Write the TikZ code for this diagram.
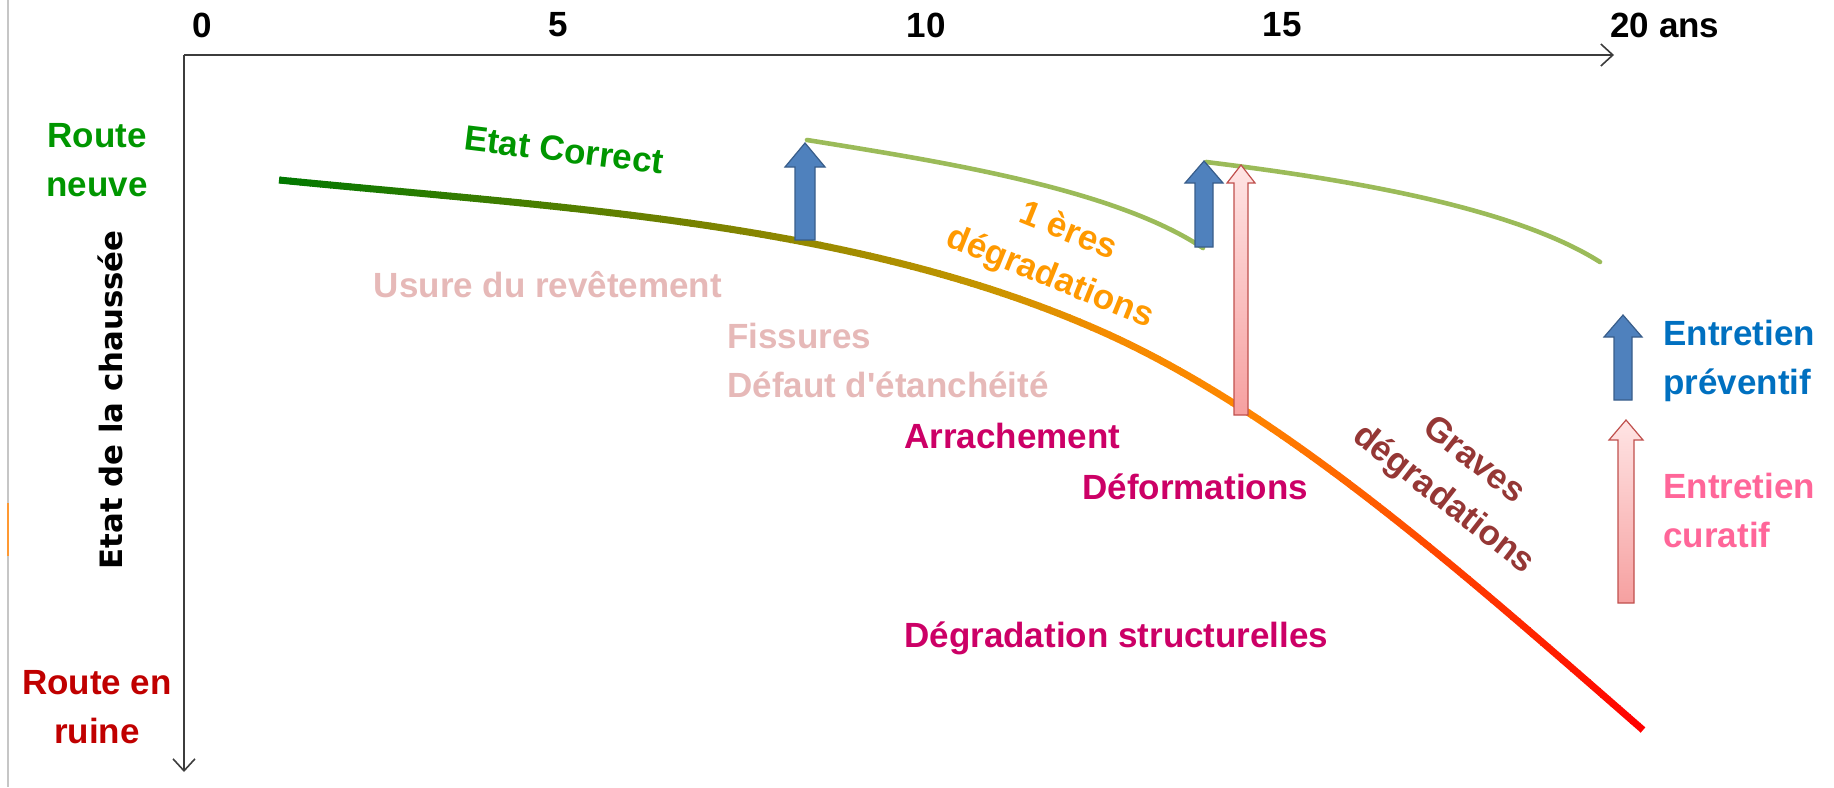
\documentclass[tikz,border=0pt]{standalone}
\usepackage{fontspec}
\usepackage{graphicx}
\setmainfont{Liberation Sans}[Ligatures=TeXOff]
\newfontfamily\heavyfont{DejaVu Sans}
\usetikzlibrary{arrows.meta}
\definecolor{axisgray}{RGB}{60,60,60}
\definecolor{newgreen}{RGB}{0,150,0}
\definecolor{ruinred}{RGB}{192,0,0}
\definecolor{lightrose}{RGB}{230,185,184}
\definecolor{crimson}{RGB}{204,0,102}
\definecolor{orangetxt}{RGB}{255,153,0}
\definecolor{brownred}{RGB}{149,55,53}
\definecolor{prevblue}{RGB}{0,112,192}
\definecolor{curpink}{RGB}{255,102,153}
\definecolor{lgreen}{RGB}{155,187,89}
\definecolor{bfill}{RGB}{79,129,189}
\definecolor{bdraw}{RGB}{56,93,138}
\definecolor{ptop}{RGB}{255,228,228}
\definecolor{pbot}{RGB}{246,160,160}
\definecolor{pdraw}{RGB}{192,80,77}
\newcommand\blockarrow[7]{%
  \draw[#1] (#2-#5,#3) -- (#2-#5,#4+#7) -- (#2-#6,#4+#7) -- (#2,#4)
    -- (#2+#6,#4+#7) -- (#2+#5,#4+#7) -- (#2+#5,#3) -- cycle;}
\def\mainpath{(279,180) .. controls (559,208) and (855,221) .. (1105,333)
  .. controls (1285,414) and (1462,572) .. (1643,730)}
\begin{document}
\begin{tikzpicture}[x=0.5pt,y=-0.5pt,
  lbl/.style={inner sep=0pt, font=\fontsize{17.5}{24.5}\selectfont\bfseries},
  axis/.style={draw=axisgray, line width=1pt, -{Straight Barb[length=6pt,width=11pt,line width=0.8pt]}},
  renew/.style={draw=lgreen, line width=2.3pt, line cap=round},
  bluearrow/.style={fill=bfill, draw=bdraw, line width=0.6pt},
  pinkarrow/.style={top color=ptop, bottom color=pbot, draw=pdraw, line width=0.6pt}]
\useasboundingbox (0,0) rectangle (1834,787);
% frame remnants
\draw[gray!45, line width=0.6pt] (8,0) -- (8,787);
\draw[orange!80, line width=0.6pt] (8,503) -- (8,556);
% axes
\coordinate (O) at (184,55);
\coordinate (Xend) at (1614,55);
\coordinate (Yend) at (184,772);
\draw[axis] (O) -- (Xend);
\draw[axis] (O) -- (Yend);
% tick labels
\node[lbl] (t0) at (202,25) {0};
\node[lbl] (t5) at (558,25) {5};
\node[lbl] (t10) at (926,25) {10};
\node[lbl] (t15) at (1282,25) {15};
\node[lbl, anchor=west] (t20) at (1610,25) {20 ans};
% y axis labels
\node[lbl, text=newgreen, align=center] (rneuve) at (97,160) {Route\\neuve};
\node[inner sep=0pt, rotate=90, font=\heavyfont\fontsize{15.4}{18}\selectfont\bfseries] (etat) at (110,400) {Etat de la chaussée};
\node[lbl, text=ruinred, align=center] (rruine) at (97,707) {Route en\\ruine};
% main degradation curve with colour gradient
\foreach \xa in {270,280,...,1650}{
  \pgfmathsetmacro\xm{\xa+5}
  \pgfmathtruncatemacro\cR{max(0,min(255, \xm<700 ? (\xm-279)/421*120 : (\xm<990 ? 120+(\xm-700)/290*80 : (\xm<1105 ? 200+(\xm-990)/115*45 : (\xm<1250 ? 245+(\xm-1105)/145*10 : 255)))))}
  \pgfmathtruncatemacro\cG{max(0,min(255, \xm<700 ? 120+(\xm-279)/421*10 : (\xm<990 ? 130+(\xm-700)/290*20 : (\xm<1105 ? 150-(\xm-990)/115*10 : (\xm<1250 ? 140-(\xm-1105)/145*5 : 135-(\xm-1250)/390*135)))))}
  \definecolor{segc}{RGB}{\cR,\cG,0}
  \begin{scope}
    \clip (\xa,0) rectangle (\xa+10.8,800);
    \draw[segc, line width=3.5pt] \mainpath;
  \end{scope}
}
% renewed (maintained) curves
\draw[renew] (807,140) .. controls (937,161) and (1113,188) .. (1203,248);
\draw[renew] (1206,162) .. controls (1336,178) and (1510,205) .. (1600,262);
% maintenance arrows
\blockarrow{bluearrow}{805}{240}{143}{10}{20}{24}
\blockarrow{bluearrow}{1204}{247}{161}{9}{19}{22}
\blockarrow{pinkarrow}{1241}{415}{165}{7}{14}{18}
\blockarrow{bluearrow}{1623}{400}{315}{9}{19}{22}
\blockarrow{pinkarrow}{1626}{603}{420}{8}{17}{20}
% labels
\node[lbl, text=newgreen, rotate=-7] (correct) at (564,150) {Etat Correct};
\node[lbl, text=lightrose] (usure) at (548,285) {Usure du revêtement};
\node[lbl, text=lightrose, anchor=west] (fissures) at (727,336) {Fissures};
\node[lbl, text=lightrose, anchor=west] (defaut) at (727,385) {Défaut d'étanchéité};
\node[lbl, text=crimson, anchor=west] (arrach) at (904,436) {Arrachement};
\node[lbl, text=crimson, anchor=west] (deform) at (1082,487) {Déformations};
\node[lbl, text=crimson, anchor=west] (degstruct) at (904,638) {Dégradation structurelles};
\node[lbl, text=orangetxt, align=center, rotate=-22] (premieres) at (1059,255) {1 ères\\dégradations};
\node[lbl, text=brownred, align=center, rotate=-38] (graves) at (1458,481) {Graves\\dégradations};
\node[lbl, text=prevblue, align=left, anchor=west] (prev) at (1663,361) {Entretien\\préventif};
\node[lbl, text=curpink, align=left, anchor=west] (cura) at (1663,510) {Entretien\\curatif};
\end{tikzpicture}
\end{document}
